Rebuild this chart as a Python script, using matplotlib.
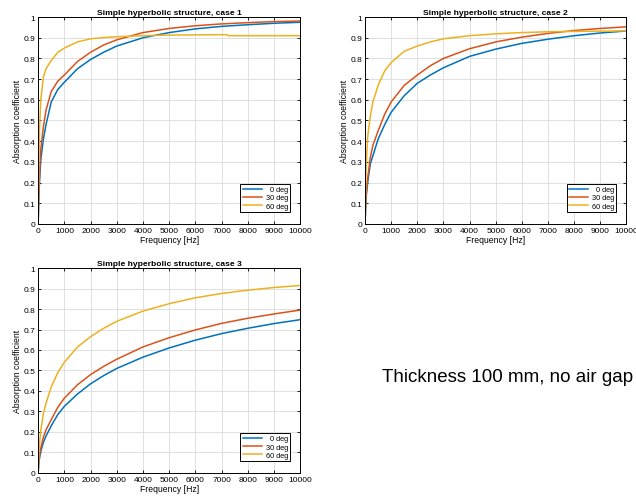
import matplotlib
matplotlib.use('Agg')
import matplotlib.pyplot as plt

plt.rcParams['font.family'] = ['Liberation Sans', 'DejaVu Sans']

# Frequency sample points [Hz]
freq = [0, 25, 50, 100, 200, 300, 500, 750, 1000, 1500, 2000, 2500, 3000, 4000,
        5000, 6000, 7000, 8000, 9000, 10000]

# Case 1
c1_0 = [0.0, 0.12, 0.20, 0.31, 0.41, 0.48, 0.59, 0.65, 0.685, 0.75, 0.795, 0.83, 0.86, 0.90,
        0.925, 0.943, 0.955, 0.963, 0.970, 0.975]
c1_30 = [0.0, 0.15, 0.24, 0.36, 0.47, 0.55, 0.64, 0.69, 0.72, 0.785, 0.83, 0.865, 0.89, 0.925,
         0.945, 0.958, 0.967, 0.973, 0.978, 0.981]
c1_60_freq = [0, 25, 50, 100, 200, 300, 500, 750, 1000, 1500, 2000, 2500, 3000, 4000,
              5000, 6000, 7200, 7250, 8000, 9000, 10000]
c1_60 = [0.0, 0.30, 0.45, 0.60, 0.71, 0.75, 0.79, 0.83, 0.85, 0.88, 0.895, 0.901, 0.905, 0.91,
         0.913, 0.914, 0.915, 0.910, 0.910, 0.910, 0.910]

# Case 2
c2_0 = [0.0, 0.09, 0.14, 0.20, 0.29, 0.33, 0.41, 0.48, 0.54, 0.62, 0.68, 0.72, 0.755, 0.81,
        0.845, 0.873, 0.893, 0.910, 0.923, 0.933]
c2_30 = [0.0, 0.10, 0.16, 0.22, 0.32, 0.38, 0.45, 0.53, 0.59, 0.67, 0.72, 0.765, 0.80, 0.847,
         0.88, 0.903, 0.921, 0.935, 0.945, 0.953]
c2_60 = [0.0, 0.20, 0.30, 0.42, 0.52, 0.59, 0.67, 0.74, 0.78, 0.835, 0.86, 0.88, 0.895, 0.910,
         0.919, 0.925, 0.929, 0.931, 0.932, 0.933]

# Case 3
c3_0 = [0.0, 0.05, 0.07, 0.105, 0.15, 0.18, 0.23, 0.285, 0.325, 0.385, 0.435, 0.475, 0.51, 0.565,
        0.61, 0.648, 0.68, 0.706, 0.729, 0.748]
c3_30 = [0.0, 0.06, 0.085, 0.12, 0.175, 0.21, 0.26, 0.32, 0.365, 0.43, 0.48, 0.52, 0.555, 0.615,
         0.66, 0.698, 0.73, 0.755, 0.776, 0.795]
c3_60 = [0.0, 0.10, 0.14, 0.205, 0.29, 0.34, 0.42, 0.49, 0.54, 0.615, 0.665, 0.706, 0.74, 0.79,
         0.826, 0.855, 0.876, 0.892, 0.905, 0.915]

labels = ['  0 deg', '30 deg', '60 deg']
colors = ['#0072BD', '#D95319', '#EDB120']
titles = ['Simple hyperbolic structure, case 1',
          'Simple hyperbolic structure, case 2',
          'Simple hyperbolic structure, case 3']

cases = [
    [(freq, c1_0), (freq, c1_30), (c1_60_freq, c1_60)],
    [(freq, c2_0), (freq, c2_30), (freq, c2_60)],
    [(freq, c3_0), (freq, c3_30), (freq, c3_60)],
]
positions = [
    [0.060, 0.552, 0.412, 0.412],
    [0.574, 0.552, 0.411, 0.412],
    [0.060, 0.056, 0.412, 0.408],
]

fig = plt.figure(figsize=(6.36, 5.02), dpi=100)

for series, pos, title in zip(cases, positions, titles):
    ax = fig.add_axes(pos)
    for (x, y), lab, col in zip(series, labels, colors):
        ax.plot(x, y, color=col, linewidth=1.1, label=lab)
    ax.set_xlim(0, 10000)
    ax.set_ylim(0, 1)
    ax.set_xticks(range(0, 10001, 1000))
    ax.set_yticks([i / 10 for i in range(11)])
    ax.set_yticklabels(['0', '0.1', '0.2', '0.3', '0.4', '0.5', '0.6', '0.7', '0.8', '0.9', '1'])
    ax.grid(True, color='#dadada', linewidth=0.6)
    ax.tick_params(direction='in', top=True, right=True, labelsize=6,
                   length=2.5, width=0.6, pad=2)
    for sp in ax.spines.values():
        sp.set_linewidth(0.7)
    ax.set_title(title, fontsize=6.1, fontweight='bold', pad=2)
    ax.set_xlabel('Frequency [Hz]', fontsize=6.2, labelpad=1)
    ax.set_ylabel('Absorption coefficient', fontsize=6.2, labelpad=1)
    leg = ax.legend(loc='lower right', fontsize=5.3, fancybox=False, framealpha=1,
                    edgecolor='black', handlelength=2.6, handletextpad=0.5,
                    borderpad=0.3, labelspacing=0.15,
                    bbox_to_anchor=(0.975, 0.04))
    leg.get_frame().set_linewidth(0.7)

fig.text(0.600, 0.249, 'Thickness 100 mm, no air gap', fontsize=13.5, va='center')

fig.savefig('out.png', dpi=100)
